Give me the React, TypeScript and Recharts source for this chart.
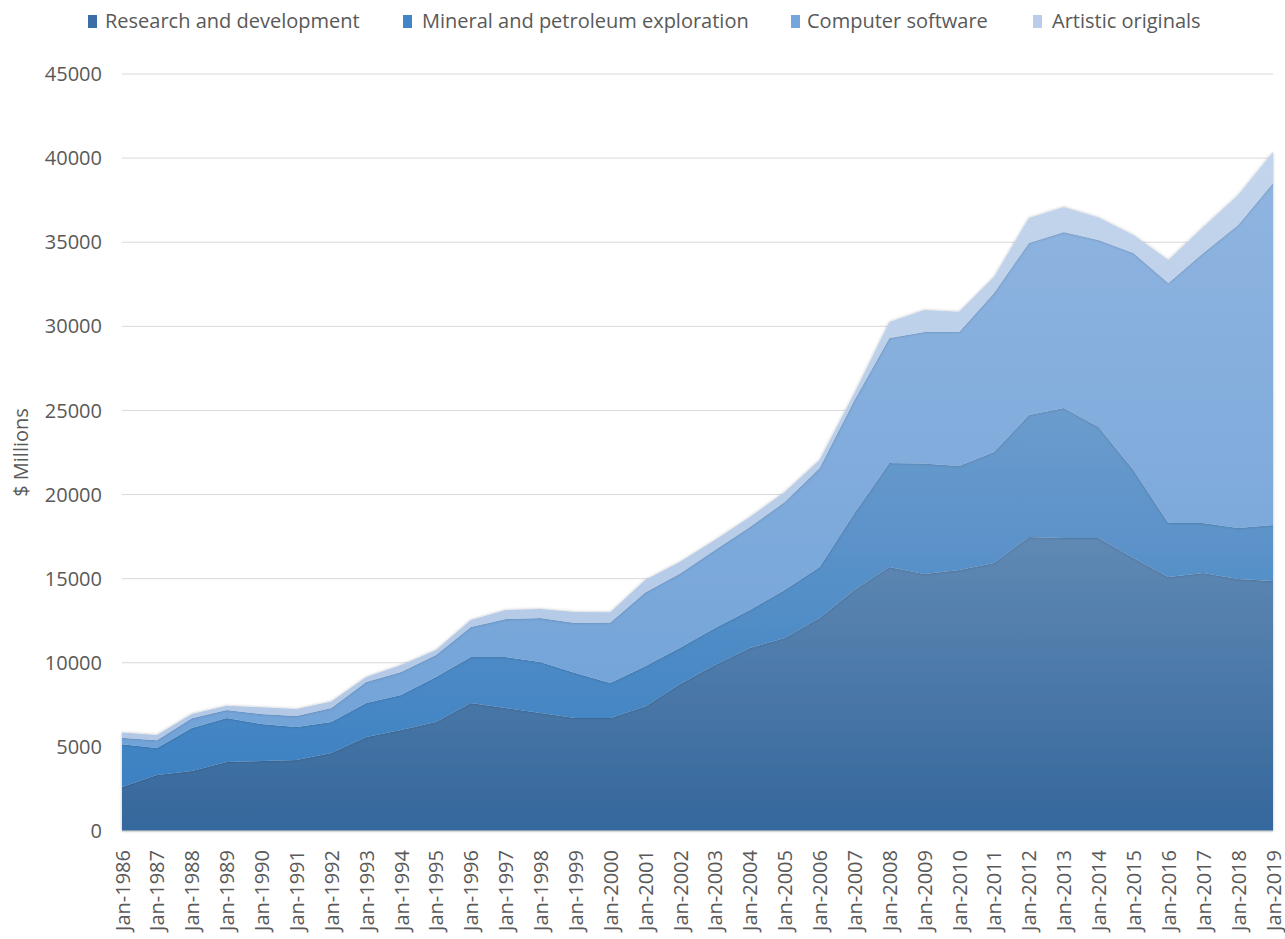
import React from 'react';
import { AreaChart, Area, XAxis, YAxis, CartesianGrid } from 'recharts';

const years = [
  'Jan-1986', 'Jan-1987', 'Jan-1988', 'Jan-1989', 'Jan-1990', 'Jan-1991', 'Jan-1992',
  'Jan-1993', 'Jan-1994', 'Jan-1995', 'Jan-1996', 'Jan-1997', 'Jan-1998', 'Jan-1999',
  'Jan-2000', 'Jan-2001', 'Jan-2002', 'Jan-2003', 'Jan-2004', 'Jan-2005', 'Jan-2006',
  'Jan-2007', 'Jan-2008', 'Jan-2009', 'Jan-2010', 'Jan-2011', 'Jan-2012', 'Jan-2013',
  'Jan-2014', 'Jan-2015', 'Jan-2016', 'Jan-2017', 'Jan-2018', 'Jan-2019',
];

const research = [
  2620, 3330, 3570, 4100, 4160, 4220, 4640, 5590, 6000, 6480, 7610, 7310, 7020, 6720,
  6720, 7400, 8740, 9870, 10880, 11470, 12660, 14330, 15690, 15280, 15520, 15930, 17480,
  17420, 17420, 16230, 15100, 15340, 14980, 14860,
];
const mineral = [
  2530, 1600, 2550, 2620, 2200, 1960, 1840, 2020, 2090, 2680, 2730, 3030, 3030, 2670,
  2080, 2400, 2160, 2200, 2260, 2860, 3030, 4570, 6190, 6570, 6180, 6600, 7250, 7730,
  6600, 5230, 3210, 2970, 3030, 3330,
];
const software = [
  400, 470, 580, 470, 600, 660, 830, 1250, 1360, 1300, 1790, 2260, 2610, 2980, 3600,
  4380, 4400, 4630, 4930, 5230, 5890, 6720, 7430, 7820, 7970, 9450, 10230, 10460, 11110,
  12900, 14270, 16050, 18020, 20330,
];
const artistic = [
  300, 300, 250, 260, 390, 410, 390, 290, 420, 300, 410, 540, 540, 650, 600, 740, 700,
  600, 600, 590, 480, 420, 950, 1300, 1190, 960, 1480, 1490, 1340, 1070, 1370, 1550,
  1780, 1850,
];

const yTicks = [0, 5000, 10000, 15000, 20000, 25000, 30000, 35000, 40000, 45000];

const data = years.map((name, i) => ({
  name,
  research: research[i],
  mineral: mineral[i],
  software: software[i],
  artistic: artistic[i],
}));

const FONT = '"Open Sans", sans-serif';
const TEXT = '#595959';

const legendItems = [
  { label: 'Research and development', color: '#3b6ea5', sq: 88, tx: 105 },
  { label: 'Mineral and petroleum exploration', color: '#3f85c8', sq: 403, tx: 422 },
  { label: 'Computer software', color: '#74a6dc', sq: 791, tx: 807 },
  { label: 'Artistic originals', color: '#b9cdea', sq: 1033, tx: 1052 },
];

const XTick = (props: any) => {
  const { x, y, payload } = props;
  return (
    <text
      transform={`translate(${x},${y + 17}) rotate(-90)`}
      textAnchor="end"
      dominantBaseline="central"
      fill={TEXT}
      fontSize={20}
      fontFamily={FONT}
    >
      {payload.value}
    </text>
  );
};

export default function App() {
  return (
    <div style={{ position: 'fixed', left: 0, top: 0, width: 1285, height: 939, background: '#fff' }}>
      {legendItems.map((it) => (
        <React.Fragment key={it.label}>
          <div
            style={{
              position: 'absolute', left: it.sq, top: 15, width: 9, height: 13,
              background: it.color,
            }}
          />
          <div
            style={{
              position: 'absolute', left: it.tx, top: 7, fontFamily: FONT, fontSize: 20,
              lineHeight: '28px', color: TEXT, whiteSpace: 'nowrap',
            }}
          >
            {it.label}
          </div>
        </React.Fragment>
      ))}
      <AreaChart
        width={1285}
        height={939}
        data={data}
        margin={{ top: 74, right: 12, left: 0, bottom: 0 }}
      >
        <defs>
          <linearGradient id="gRes" x1="0" y1="0" x2="0" y2="1">
            <stop offset="0%" stopColor="#6089b4" />
            <stop offset="100%" stopColor="#35679c" />
          </linearGradient>
          <linearGradient id="gMin" x1="0" y1="0" x2="0" y2="1">
            <stop offset="0%" stopColor="#6c9ccd" />
            <stop offset="100%" stopColor="#3c81c2" />
          </linearGradient>
          <linearGradient id="gSoft" x1="0" y1="0" x2="0" y2="1">
            <stop offset="0%" stopColor="#8fb4e0" />
            <stop offset="100%" stopColor="#72a3d8" />
          </linearGradient>
          <linearGradient id="gArt" x1="0" y1="0" x2="0" y2="1">
            <stop offset="0%" stopColor="#c3d5ec" />
            <stop offset="100%" stopColor="#b2c8e6" />
          </linearGradient>
          <filter id="soft" x="-5%" y="-5%" width="110%" height="110%">
            <feDropShadow dx="0" dy="0" stdDeviation="1.5" floodColor="#000" floodOpacity="0.25" />
          </filter>
        </defs>
        <CartesianGrid vertical={false} stroke="#d9d9d9" />
        <XAxis
          dataKey="name"
          interval={0}
          height={108}
          tickLine={false}
          tickSize={0}
          axisLine={{ stroke: '#d9d9d9' }}
          tick={<XTick />}
        />
        <YAxis
          width={122}
          domain={[0, 45000]}
          ticks={yTicks}
          interval={0}
          axisLine={false}
          tickLine={false}
          tickSize={0}
          tickMargin={20}
          tick={{ fill: TEXT, fontSize: 20, fontFamily: FONT }}
          label={{
            value: '$ Millions',
            angle: -90,
            position: 'insideLeft',
            offset: 21,
            style: { textAnchor: 'middle', fill: TEXT, fontSize: 20, fontFamily: FONT },
          }}
        />
        <Area type="linear" dataKey="research" stackId="1" stroke="none" fill="url(#gRes)" fillOpacity={1} isAnimationActive={false} dot={false} activeDot={false} filter="url(#soft)" />
        <Area type="linear" dataKey="mineral" stackId="1" stroke="none" fill="url(#gMin)" fillOpacity={1} isAnimationActive={false} dot={false} activeDot={false} filter="url(#soft)" />
        <Area type="linear" dataKey="software" stackId="1" stroke="none" fill="url(#gSoft)" fillOpacity={1} isAnimationActive={false} dot={false} activeDot={false} filter="url(#soft)" />
        <Area type="linear" dataKey="artistic" stackId="1" stroke="none" fill="url(#gArt)" fillOpacity={1} isAnimationActive={false} dot={false} activeDot={false} filter="url(#soft)" />
      </AreaChart>
    </div>
  );
}
